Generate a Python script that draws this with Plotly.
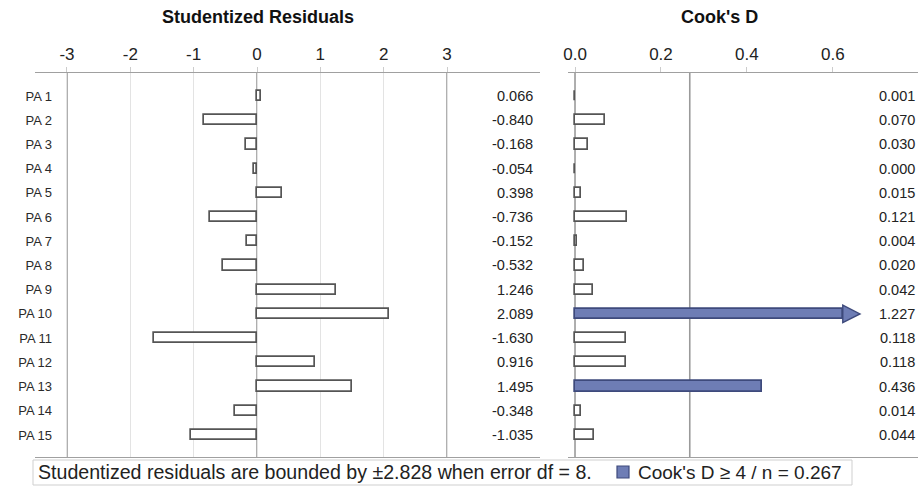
import plotly.graph_objects as go

# ---------------- data ----------------
observations = ["PA 1", "PA 2", "PA 3", "PA 4", "PA 5", "PA 6", "PA 7", "PA 8",
                "PA 9", "PA 10", "PA 11", "PA 12", "PA 13", "PA 14", "PA 15"]
stud_resid = [0.066, -0.840, -0.168, -0.054, 0.398, -0.736, -0.152, -0.532,
              1.246, 2.089, -1.630, 0.916, 1.495, -0.348, -1.035]
cooks_d = [0.001, 0.070, 0.030, 0.000, 0.015, 0.121, 0.004, 0.020,
           0.042, 1.227, 0.118, 0.118, 0.436, 0.014, 0.044]
resid_ticks = [-3, -2, -1, 0, 1, 2, 3]
resid_ref = [-3, 0, 3]
cook_ticks = [0.0, 0.2, 0.4, 0.6]
cook_cutoff = 0.267
resid_bound = 2.828
error_df = 8
n_obs = len(observations)

# ---------------- style ----------------
W, H = 918, 490
FONT = "Liberation Sans, Arial, sans-serif"
BAR_LINE = "#555555"
BLUE = "#6E7DB5"
BLUE_EDGE = "#3E4A7C"
REF = "#9a9a9a"
GRID = "#e3e3e3"
cook_display_max = 0.623   # truncation point of the drawn bar (beyond axis)
arrow_head_len = 0.040
bar_w = 0.42

def px(x):
    return x / W

def py(y):
    return 1 - y / H

ypos = list(range(n_obs))

fig = go.Figure()

# Studentized residual bars
fig.add_trace(go.Bar(
    x=stud_resid, y=ypos, orientation="h", width=bar_w,
    marker=dict(color="white", line=dict(color=BAR_LINE, width=1.7)),
    xaxis="x", yaxis="y", showlegend=False, hoverinfo="x+y"))

# Cook's D bars
flag = [d >= cook_cutoff for d in cooks_d]
shown = [min(d, cook_display_max) for d in cooks_d]
fig.add_trace(go.Bar(
    x=shown, y=ypos, orientation="h", width=bar_w,
    marker=dict(color=[BLUE if f else "white" for f in flag],
                line=dict(color=[BLUE_EDGE if f else BAR_LINE for f in flag], width=1.7)),
    xaxis="x2", yaxis="y2", showlegend=False, hoverinfo="x+y"))

shapes = []
# arrow heads for truncated values
for i, d in enumerate(cooks_d):
    if d > cook_display_max:
        x0 = cook_display_max
        x1 = cook_display_max + arrow_head_len
        h = 0.36
        shapes.append(dict(type="path", xref="x2", yref="y2",
                           path=f"M {x0},{i-h} L {x1},{i} L {x0},{i+h} Z",
                           fillcolor=BLUE, line=dict(color=BLUE_EDGE, width=1.4)))

# reference lines
for r in resid_ref:
    shapes.append(dict(type="line", xref="x", yref="y domain", x0=r, x1=r, y0=0, y1=1,
                       line=dict(color=REF, width=1.6), layer="below"))
for r in [0, cook_cutoff]:
    shapes.append(dict(type="line", xref="x2", yref="y2 domain", x0=r, x1=r, y0=0, y1=1,
                       line=dict(color=REF, width=1.6), layer="below"))

# legend box and swatch
shapes.append(dict(type="rect", xref="paper", yref="paper",
                   x0=px(33), x1=px(852), y0=py(485), y1=py(460),
                   line=dict(color="#cfcfcf", width=1), fillcolor="white"))
shapes.append(dict(type="rect", xref="paper", yref="paper",
                   x0=px(617), x1=px(629), y0=py(478), y1=py(466),
                   line=dict(color=BLUE_EDGE, width=1.2), fillcolor=BLUE))

annotations = []
for i in range(n_obs):
    annotations.append(dict(x=px(535), xref="paper", y=i, yref="y",
                            text=f"{stud_resid[i]:.3f}", showarrow=False,
                            xanchor="right", yanchor="middle",
                            font=dict(size=14.5, color="#222")))
    annotations.append(dict(x=px(917), xref="paper", y=i, yref="y",
                            text=f"{cooks_d[i]:.3f}", showarrow=False,
                            xanchor="right", yanchor="middle",
                            font=dict(size=14.5, color="#222")))

annotations.append(dict(x=px(258), y=py(17), xref="paper", yref="paper",
                        xanchor="center", yanchor="middle",
                        text="<b>Studentized Residuals</b>", showarrow=False,
                        font=dict(size=18, color="#111")))
annotations.append(dict(x=px(719), y=py(17), xref="paper", yref="paper",
                        xanchor="center", yanchor="middle",
                        text="<b>Cook's D</b>", showarrow=False,
                        font=dict(size=18, color="#111")))
annotations.append(dict(x=px(36), y=py(472), xref="paper", yref="paper",
                        xanchor="left", yanchor="middle",
                        text=f"Studentized residuals are bounded by \u00b1{resid_bound:.3f} when error df = {error_df}.",
                        showarrow=False, font=dict(size=19.6, color="#222")))
annotations.append(dict(x=px(636), y=py(472), xref="paper", yref="paper",
                        xanchor="left", yanchor="middle",
                        text=f"Cook's D \u2265 4 / n = {cook_cutoff:.3f}",
                        showarrow=False, font=dict(size=19, color="#222")))

ydom = [py(457), py(73)]
yrange = [n_obs - 1 + 0.91, -0.95]

fig.update_layout(
    width=W, height=H,
    margin=dict(l=0, r=0, t=0, b=0, autoexpand=False),
    paper_bgcolor="white", plot_bgcolor="white",
    font=dict(family=FONT, color="#222"),
    bargap=0,
    xaxis=dict(domain=[px(35), px(540)], range=[-3.505, 4.468], side="top",
               tickvals=resid_ticks, ticktext=[str(t) for t in resid_ticks],
               showgrid=True, gridcolor=GRID, gridwidth=1,
               zeroline=False, showline=True, mirror=True, linecolor="#a0a0a0",
               linewidth=1.2, ticks="outside", ticklen=5, tickcolor="#cccccc",
               tickfont=dict(size=17, color="#222"), anchor="y", automargin=False),
    yaxis=dict(domain=ydom, range=yrange, tickvals=ypos, ticktext=observations,
               showgrid=False, zeroline=False, showline=False, ticks="",
               tickfont=dict(size=13, color="#2a2a2a"), anchor="free",
               position=px(52), automargin=False),
    xaxis2=dict(domain=[px(568), 1.0], range=[-0.0163, 0.798], side="top",
                tickvals=cook_ticks, ticktext=[f"{t:.1f}" for t in cook_ticks],
                showgrid=False, zeroline=False, showline=True, mirror=True,
                linecolor="#a0a0a0", linewidth=1.2, ticks="outside", ticklen=5,
                tickcolor="#cccccc", tickfont=dict(size=17, color="#222"), anchor="y2",
                automargin=False),
    yaxis2=dict(domain=ydom, range=yrange, showticklabels=False, showgrid=False,
                zeroline=False, showline=False, ticks="", anchor="x2", automargin=False),
    shapes=shapes,
    annotations=annotations,
)

fig.write_html(
    "out.html",
    config={"displayModeBar": False},
    post_script="document.body.style.margin='0';document.body.style.padding='0';"
                "document.body.style.overflow='hidden';",
)
